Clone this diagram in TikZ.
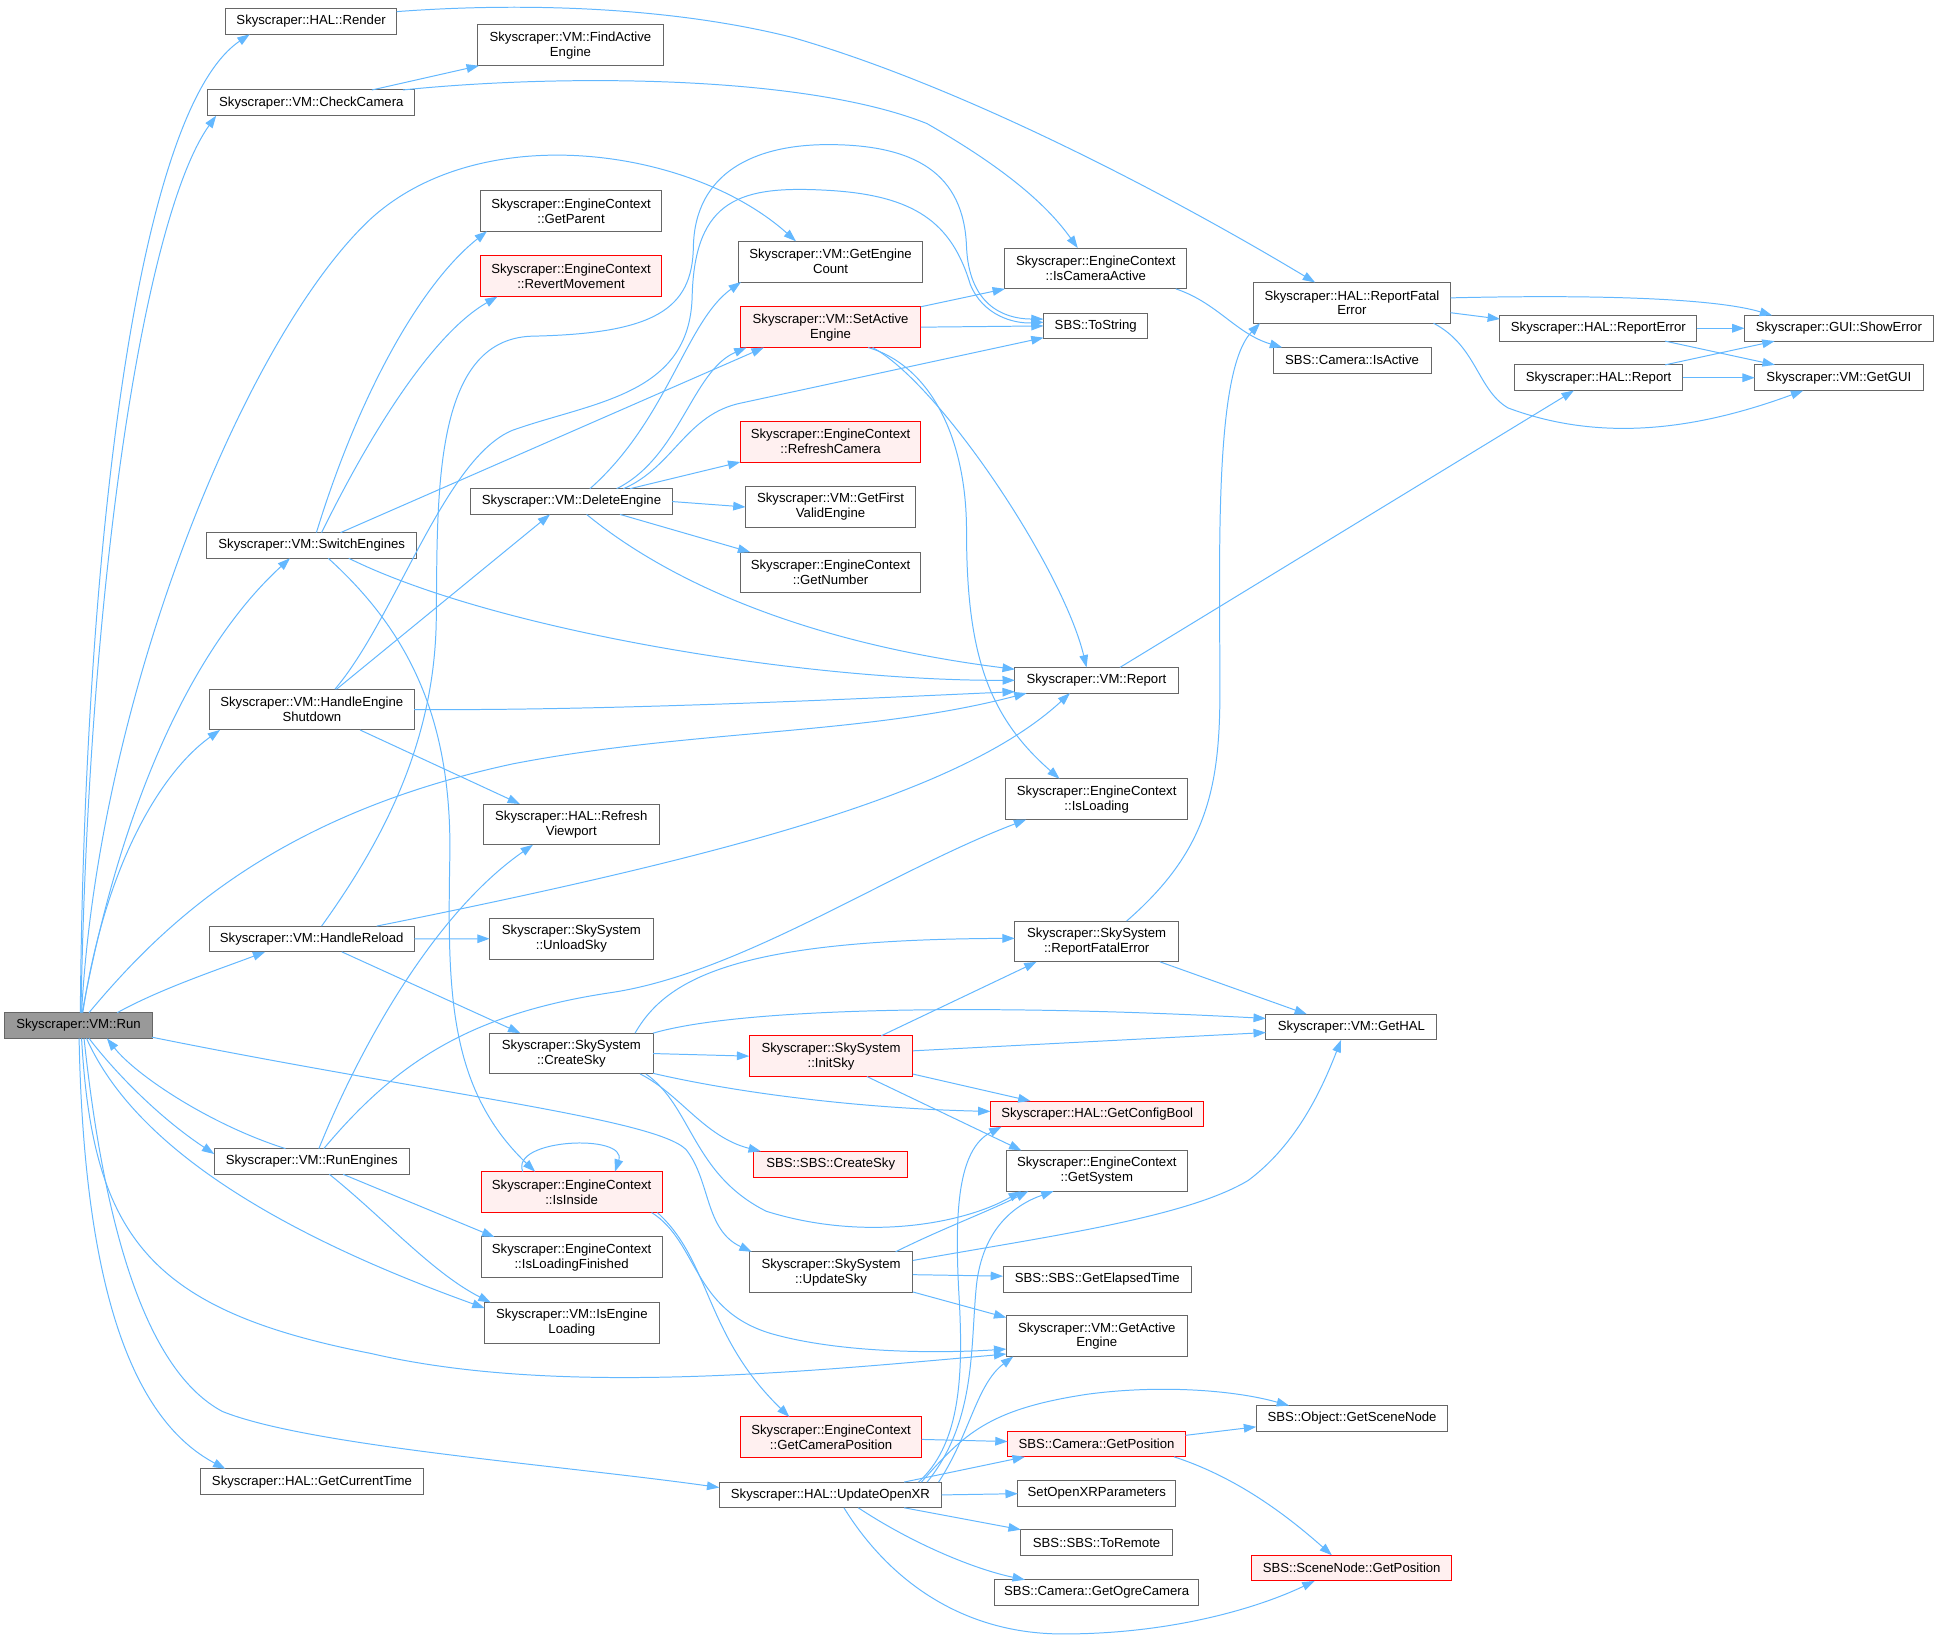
\documentclass[tikz,border=0pt]{standalone}
\usepackage{fontspec}
\setmainfont{Liberation Sans}
\usetikzlibrary{arrows.meta,calc}
\definecolor{edgeblue}{HTML}{63B8FF}
\definecolor{nodegray}{HTML}{666666}
\definecolor{redfill}{HTML}{FFF0F0}
\definecolor{rootfill}{HTML}{999999}
\tikzset{
  fn/.style={draw=nodegray, fill=white, line width=0.8pt, inner sep=0pt, outer sep=0pt, align=center,
    font=\fontsize{10.65}{12.1}\selectfont, minimum height=20.8pt},
  fn2/.style={fn, minimum height=33pt},
  redbox/.style={draw=red, fill=redfill},
  rootbox/.style={fill=rootfill},
  call/.style={draw=edgeblue, line width=0.8pt, -{Triangle[length=10pt,width=7pt]}},
}
\begin{document}
\begin{tikzpicture}[x=1pt,y=-1pt]
\useasboundingbox (0,0) rectangle (1568,1325);
\fill[white] (0,0) rectangle (1568,1325);

% ---------------- nodes ----------------
\node[fn, rootbox, minimum width=119pt] (run) at (63.5,829.7) {Skyscraper::VM::Run};
\node[fn, minimum width=138.5pt] (render) at (251.7,17.4) {Skyscraper::HAL::Render};
\node[fn, minimum width=167.7pt] (checkcam) at (251.9,83.2) {Skyscraper::VM::CheckCamera};
\node[fn2, minimum width=150pt] (findact) at (461.5,36.7) {Skyscraper::VM::FindActive\\Engine};
\node[fn2, minimum width=147pt] (getparent) at (462,170.6) {Skyscraper::EngineContext\\::GetParent};
\node[fn2, redbox, minimum width=147pt] (revert) at (462,223.5) {Skyscraper::EngineContext\\::RevertMovement};
\node[fn2, minimum width=149pt] (getengcount) at (672,211.7) {Skyscraper::VM::GetEngine\\Count};
\node[fn2, minimum width=147pt] (iscamact) at (886.6,217.2) {Skyscraper::EngineContext\\::IsCameraActive};
\node[fn, minimum width=84.3pt] (tostring) at (886.5,263.7) {SBS::ToString};
\node[fn2, redbox, minimum width=146pt] (setact) at (672,264.7) {Skyscraper::VM::SetActive\\Engine};
\node[fn2, minimum width=159.6pt] (halrfe) at (1093.8,245) {Skyscraper::HAL::ReportFatal\\Error};
\node[fn, minimum width=127.8pt] (camisactive) at (1093.9,291.5) {SBS::Camera::IsActive};
\node[fn, minimum width=159.2pt] (reporterror) at (1293.2,265.6) {Skyscraper::HAL::ReportError};
\node[fn, minimum width=152.7pt] (showerror) at (1487.8,265.6) {Skyscraper::GUI::ShowError};
\node[fn, minimum width=135.8pt] (halreport) at (1293.4,305.6) {Skyscraper::HAL::Report};
\node[fn, minimum width=136.1pt] (getgui) at (1487.8,305.6) {Skyscraper::VM::GetGUI};
\node[fn2, redbox, minimum width=146pt] (refreshcam) at (672,357.3) {Skyscraper::EngineContext\\::RefreshCamera};
\node[fn, minimum width=163pt] (deleteeng) at (462.4,405.8) {Skyscraper::VM::DeleteEngine};
\node[fn2, minimum width=137.5pt] (getfirst) at (672,410.2) {Skyscraper::VM::GetFirst\\ValidEngine};
\node[fn2, minimum width=146pt] (getnumber) at (672,463.2) {Skyscraper::EngineContext\\::GetNumber};
\node[fn, minimum width=169.5pt] (switcheng) at (252.2,441.3) {Skyscraper::VM::SwitchEngines};
\node[fn2, minimum width=165.6pt] (hes) at (252.3,574.1) {Skyscraper::VM::HandleEngine\\Shutdown};
\node[fn, minimum width=132pt] (vmreport) at (887.1,550.4) {Skyscraper::VM::Report};
\node[fn2, minimum width=147.3pt] (isloading) at (887.3,646.6) {Skyscraper::EngineContext\\::IsLoading};
\node[fn2, minimum width=142pt] (refreshvp) at (462.2,667) {Skyscraper::HAL::Refresh\\Viewport};
\node[fn, minimum width=166pt] (handlereload) at (252.2,759.7) {Skyscraper::VM::HandleReload};
\node[fn2, minimum width=132.3pt] (unloadsky) at (462.3,759.5) {Skyscraper::SkySystem\\::UnloadSky};
\node[fn2, minimum width=132.6pt] (skyrfe) at (887.3,761.7) {Skyscraper::SkySystem\\::ReportFatalError};
\node[fn2, minimum width=132.2pt] (createsky) at (462.3,852.4) {Skyscraper::SkySystem\\::CreateSky};
\node[fn2, redbox, minimum width=132.4pt] (initsky) at (672.4,854.5) {Skyscraper::SkySystem\\::InitSky};
\node[fn, minimum width=138.4pt] (gethal) at (1093.4,831) {Skyscraper::VM::GetHAL};
\node[fn, redbox, minimum width=172.7pt] (getconfigbool) at (887.7,901.2) {Skyscraper::HAL::GetConfigBool};
\node[fn, redbox, minimum width=124.5pt] (sbscreatesky) at (672.1,941.9) {SBS::SBS::CreateSky};
\node[fn2, minimum width=146.4pt] (getsystem) at (887.4,947.3) {Skyscraper::EngineContext\\::GetSystem};
\node[fn, minimum width=157.7pt] (runengines) at (252.2,939.7) {Skyscraper::VM::RunEngines};
\node[fn2, redbox, minimum width=146.6pt] (isinside) at (462.5,964.5) {Skyscraper::EngineContext\\::IsInside};
\node[fn2, minimum width=146.6pt] (isloadfin) at (462.5,1017.3) {Skyscraper::EngineContext\\::IsLoadingFinished};
\node[fn2, minimum width=132.4pt] (updatesky) at (672.4,1029.3) {Skyscraper::SkySystem\\::UpdateSky};
\node[fn, minimum width=152.3pt] (elapsed) at (887.7,1035) {SBS::SBS::GetElapsedTime};
\node[fn2, minimum width=141.2pt] (isengload) at (462.7,1070.3) {Skyscraper::VM::IsEngine\\Loading};
\node[fn2, minimum width=146.4pt] (getactive) at (887.4,1081) {Skyscraper::VM::GetActive\\Engine};
\node[fn2, redbox, minimum width=146.4pt] (getcampos) at (672.4,1162.9) {Skyscraper::EngineContext\\::GetCameraPosition};
\node[fn, minimum width=155.1pt] (getscenenode) at (1093.9,1147.6) {SBS::Object::GetSceneNode};
\node[fn, redbox, minimum width=143.9pt] (camgetpos) at (887.2,1168.3) {SBS::Camera::GetPosition};
\node[fn, minimum width=180.5pt] (getcurtime) at (252.4,1198.8) {Skyscraper::HAL::GetCurrentTime};
\node[fn, minimum width=179.8pt] (updateopenxr) at (671.9,1209.5) {Skyscraper::HAL::UpdateOpenXR};
\node[fn, minimum width=127.8pt] (setopenxr) at (887.4,1208.5) {SetOpenXRParameters};
\node[fn, minimum width=122.6pt] (toremote) at (887.2,1248) {SBS::SBS::ToRemote};
\node[fn, redbox, minimum width=162.2pt] (scenenodepos) at (1093.6,1268.7) {SBS::SceneNode::GetPosition};
\node[fn, minimum width=165.3pt] (ogrecam) at (887.2,1288.5) {SBS::Camera::GetOgreCamera};

% ---------------- edges from Run ----------------
\draw[call] ($(run.north)+(1.5,0)$) .. controls (68,450) and (110,90) .. ($(render.south)+(-49.7,0)$);
\draw[call] ($(run.north)+(2,0)$) .. controls (72,450) and (120,170) .. ($(checkcam.south)+(-77,0)$);
\draw[call] ($(run.north)+(2.5,0)$) .. controls (80,560) and (200,270) .. (300,177)
   .. controls (390,95) and (560,120) .. ($(getengcount.north)+(-28,0)$);
\draw[call] ($(run.north)+(3,0)$) .. controls (100,640) and (160,520) .. ($(switcheng.south)+(-17.6,0)$);
\draw[call] ($(run.north)+(3.5,0)$) .. controls (85,700) and (130,625) .. ($(hes.south)+(-74.3,0)$);
\draw[call] ($(run.north)+(8.5,0)$) .. controls (130,750) and (220,660) .. (415,618)
   .. controls (560,590) and (700,595) .. ($(vmreport.south)+(-56.5,0)$);
\draw[call] ($(run.north)+(31.4,0)$) .. controls (130,800) and (175,785) .. ($(handlereload.south)+(-37.6,0)$);
\draw[call] ($(run.south)+(8.5,0)$) .. controls (95,870) and (130,905) .. ($(runengines.west)+(0,-6)$);
\draw[call] ($(runengines.north)+(-21.2,0)$) .. controls (170,910) and (110,870) .. ($(run.south)+(23,0)$);
\draw[call] ($(run.south)+(6.5,0)$) .. controls (110,930) and (230,1000) .. ($(isengload.west)+(0,-12)$);
\draw[call] ($(run.south)+(2.5,0)$) .. controls (75,1000) and (120,1060) .. (300,1095)
   .. controls (450,1130) and (650,1110) .. ($(getactive.west)+(0,14.5)$);
\draw[call] ($(run.south)+(0.5,0)$) .. controls (68,1050) and (110,1150) .. ($(getcurtime.north)+(-70,0)$);
\draw[call] ($(run.south)+(4.5,0)$) .. controls (85,1000) and (120,1110) .. (180,1142)
   .. controls (250,1170) and (450,1185) .. ($(updateopenxr.west)+(0,-6)$);
\draw[call] ($(run.east)+(0,9.5)$) .. controls (350,885) and (530,905) .. (555,930)
   .. controls (575,955) and (570,995) .. ($(updatesky.north west)+(2,0)$);

% ---------------- top part ----------------
\draw[call] ($(render.east)+(0,-8)$) .. controls (420,2) and (540,5) .. (640,30)
   .. controls (780,70) and (950,160) .. ($(halrfe.north)+(-29.8,0)$);
\draw[call] ($(checkcam.north)+(49,0)$) -- ($(findact.south west)+(1,0)$);
\draw[call] ($(checkcam.north)+(74,0)$) .. controls (450,60) and (650,60) .. (750,100)
   .. controls (820,140) and (850,170) .. ($(iscamact.north)+(-14.6,0)$);

% ---------------- SwitchEngines ----------------
\draw[call] ($(switcheng.north)+(3.8,0)$) .. controls (290,320) and (340,230) .. ($(getparent.south)+(-68,0)$);
\draw[call] ($(switcheng.north)+(8,0)$) .. controls (300,350) and (350,270) .. ($(revert.south)+(-59.5,0)$);
\draw[call] ($(switcheng.north)+(23.4,0)$) -- ($(setact.south)+(-54,0)$);
\draw[call] ($(switcheng.south)+(13.4,0)$) .. controls (330,510) and (365,580) .. (364,690)
   .. controls (362,800) and (362,880) .. ($(isinside.north)+(-29.5,0)$);
\draw[call] ($(switcheng.south)+(30,0)$) .. controls (400,510) and (650,551) .. (vmreport.west);

% ---------------- HandleEngineShutdown ----------------
\draw[call] ($(hes.north)+(20,0)$) -- ($(deleteeng.south)+(-17.4,0)$);
\draw[call] ($(hes.north)+(18.7,0)$) .. controls (320,500) and (360,370) .. (415,348)
   .. controls (480,325) and (558,320) .. (560,240)
   .. controls (562,160) and (600,150) .. (670,154)
   .. controls (740,158) and (770,180) .. (785,230)
   .. controls (795,255) and (820,262) .. ($(tostring.west)+(0,-3)$);
\draw[call] ($(hes.south)+(39,0)$) -- ($(refreshvp.north)+(-41.5,0)$);
\draw[call] (hes.east) .. controls (500,575) and (700,565) .. ($(vmreport.west)+(0,9.2)$);

% ---------------- HandleReload ----------------
\draw[call] ($(handlereload.north)+(8,0)$) .. controls (310,680) and (352,600) .. (353,500)
   .. controls (354,400) and (350,275) .. (430,272)
   .. controls (530,270) and (560,250) .. (561,200)
   .. controls (562,140) and (610,117) .. (670,117)
   .. controls (740,117) and (780,140) .. (782,200)
   .. controls (784,245) and (810,258) .. ($(tostring.west)+(0,-5.5)$);
\draw[call] (handlereload.east) -- (unloadsky.west);
\draw[call] ($(handlereload.south)+(24.3,0)$) -- ($(createsky.north)+(-41.3,0)$);
\draw[call] ($(handlereload.north)+(52.5,0)$) .. controls (600,690) and (780,640) .. ($(vmreport.south)+(-21.4,0)$);

% ---------------- RunEngines ----------------
\draw[call] ($(runengines.north)+(5.8,0)$) .. controls (290,850) and (350,740) .. ($(refreshvp.south)+(-31,0)$);
\draw[call] ($(runengines.north)+(9.8,0)$) .. controls (320,860) and (380,820) .. (495,803)
   .. controls (600,787) and (720,705) .. ($(isloading.south)+(-57,0)$);
\draw[call] ($(runengines.south)+(25.4,0)$) -- ($(isloadfin.north)+(-62.5,0)$);
\draw[call] ($(runengines.south)+(14.3,0)$) .. controls (310,985) and (350,1030) .. ($(isengload.north)+(-65.7,0)$);

% ---------------- DeleteEngine ----------------
\draw[call] ($(deleteeng.north)+(14.9,0)$) .. controls (540,340) and (555,260) .. ($(getengcount.south west)+(2,0)$);
\draw[call] ($(deleteeng.north)+(36.5,0)$) .. controls (550,370) and (560,300) .. ($(setact.south west)+(5,0)$);
\draw[call] ($(deleteeng.north)+(42,0)$) .. controls (545,378) and (555,335) .. (600,326) -- ($(tostring.west)+(0,9.5)$);
\draw[call] ($(deleteeng.north)+(47.3,0)$) -- (refreshcam.south west);
\draw[call] (deleteeng.east) -- (getfirst.west);
\draw[call] ($(deleteeng.south)+(39.2,0)$) -- ($(getnumber.north)+(-65,0)$);
\draw[call] ($(deleteeng.south)+(12.2,0)$) .. controls (540,470) and (650,520) .. ($(vmreport.north west)+(0,1.5)$);

% ---------------- SetActiveEngine ----------------
\draw[call] (setact.north east) -- (iscamact.south west);
\draw[call] (setact.east) -- (tostring.west);
\draw[call] ($(setact.south)+(34,0)$) .. controls (760,310) and (860,460) .. ($(vmreport.north)+(-8,0)$);
\draw[call] ($(setact.south)+(30.5,0)$) .. controls (750,295) and (782,350) .. (782,430)
   .. controls (782,530) and (800,580) .. ($(isloading.north)+(-30,0)$);

% ---------------- right upper part ----------------
\draw[call] ($(iscamact.south)+(64.7,0)$) .. controls (985,245) and (1000,270) .. ($(camisactive.north)+(-56.5,0)$);
\draw[call] ($(halrfe.east)+(0,-4)$) .. controls (1300,238) and (1390,242) .. ($(showerror.north)+(-54,0)$);
\draw[call] ($(halrfe.east)+(0,8)$) -- ($(reporterror.west)+(0,-7.5)$);
\draw[call] ($(halrfe.south)+(66,0)$) .. controls (1195,280) and (1195,315) .. (1220,330)
   .. controls (1300,360) and (1380,345) .. ($(getgui.south)+(-28.8,0)$);
\draw[call] (reporterror.east) -- (showerror.west);
\draw[call] ($(reporterror.south)+(54,0)$) -- ($(getgui.north)+(-51.8,0)$);
\draw[call] ($(halreport.north)+(53.8,0)$) -- ($(showerror.south)+(-52,0)$);
\draw[call] (halreport.east) -- (getgui.west);
\draw[call] ($(vmreport.north)+(19,0)$) -- ($(halreport.south)+(-20,0)$);

% ---------------- SkySystem ----------------
\draw[call] ($(skyrfe.north)+(24.2,0)$) .. controls (975,690) and (987,640) .. (987,560)
   .. controls (987,450) and (982,300) .. ($(halrfe.south west)+(5.5,0)$);
\draw[call] ($(skyrfe.south)+(51.2,0)$) -- ($(gethal.north)+(-36,0)$);
\draw[call] ($(createsky.north)+(51.5,0)$) .. controls (540,790) and (600,760) .. ($(skyrfe.west)+(0,-2.5)$);
\draw[call] (createsky.north east) .. controls (600,815) and (800,812) .. ($(gethal.west)+(0,-7)$);
\draw[call] (createsky.east) -- (initsky.west);
\draw[call] ($(createsky.east)+(0,16)$) .. controls (600,885) and (700,897) .. ($(getconfigbool.west)+(0,-2)$);
\draw[call] ($(createsky.south)+(55.6,0)$) .. controls (550,885) and (570,920) .. ($(sbscreatesky.north)+(-56.5,0)$);
\draw[call] ($(createsky.south)+(60.3,0)$) .. controls (560,895) and (560,950) .. (620,980)
   .. controls (700,1005) and (780,990) .. ($(getsystem.south)+(-61.4,0)$);
\draw[call] ($(initsky.north)+(40.6,0)$) -- ($(skyrfe.south)+(-48.6,0)$);
\draw[call] ($(initsky.east)+(0,-4.3)$) -- ($(gethal.west)+(0,4.4)$);
\draw[call] ($(initsky.east)+(0,14.5)$) -- ($(getconfigbool.north)+(-53.9,0)$);
\draw[call] ($(initsky.south)+(29,0)$) -- ($(getsystem.north)+(-61,0)$);

% ---------------- IsInside ----------------
\draw[call] ($(isinside.north)+(-39.5,0)$) .. controls (412,921) and (508,917) .. ($(isinside.north)+(35,0)$);
\draw[call] ($(isinside.south)+(64.7,0)$) .. controls (565,1005) and (560,1060) .. (624,1079)
   .. controls (680,1095) and (760,1095) .. ($(getactive.west)+(0,10.5)$);
\draw[call] ($(isinside.south)+(69.3,0)$) .. controls (575,1020) and (570,1080) .. ($(getcampos.north)+(-33.7,0)$);

% ---------------- UpdateSky ----------------
\draw[call] ($(updatesky.north)+(52.2,0)$) .. controls (760,995) and (800,980) .. ($(getsystem.south)+(-55.4,0)$);
\draw[call] ($(updatesky.east)+(0,-9.5)$) .. controls (850,1000) and (960,985) .. (1010,955)
   .. controls (1050,925) and (1070,880) .. ($(gethal.south)+(-8.4,0)$);
\draw[call] ($(updatesky.east)+(0,2)$) -- ($(elapsed.west)+(0,-2.5)$);
\draw[call] ($(updatesky.east)+(0,16)$) -- ($(getactive.north west)+(0,1.5)$);

% ---------------- camera / scene ----------------
\draw[call] ($(getcampos.east)+(0,1.7)$) -- ($(camgetpos.west)+(0,-2)$);
\draw[call] ($(camgetpos.east)+(0,-7)$) -- ($(getscenenode.west)+(0,6.8)$);
\draw[call] ($(camgetpos.south)+(62.7,0)$) .. controls (1000,1195) and (1040,1225) .. ($(scenenodepos.north)+(-16,0)$);

% ---------------- UpdateOpenXR ----------------
\draw[call] ($(updateopenxr.north)+(71.3,0)$) .. controls (775,1170) and (780,1120) .. (776,1050)
   .. controls (772,980) and (775,930) .. ($(getconfigbool.south west)+(9,0)$);
\draw[call] ($(updateopenxr.north)+(78.2,0)$) .. controls (790,1150) and (785,1090) .. (790,1040)
   .. controls (795,995) and (820,975) .. ($(getsystem.south)+(-35,0)$);
\draw[call] ($(updateopenxr.north)+(87.5,0)$) .. controls (785,1160) and (790,1120) .. ($(getactive.south)+(-67.6,0)$);
\draw[call] ($(updateopenxr.north)+(73.6,0)$) .. controls (780,1160) and (800,1140) .. (880,1128)
   .. controls (940,1120) and (1000,1125) .. ($(getscenenode.north)+(-51,0)$);
\draw[call] ($(updateopenxr.north)+(59.6,0)$) -- ($(camgetpos.south)+(-58,0)$);
\draw[call] (updateopenxr.east) -- (setopenxr.west);
\draw[call] ($(updateopenxr.south)+(59.6,0)$) -- (toremote.north west);
\draw[call] ($(updateopenxr.south)+(22.5,0)$) .. controls (740,1250) and (790,1270) .. ($(ogrecam.north)+(-58,0)$);
\draw[call] ($(updateopenxr.south)+(10.9,0)$) .. controls (720,1280) and (780,1322) .. (860,1322)
   .. controls (950,1322) and (1020,1300) .. ($(scenenodepos.south)+(-30,0)$);
\end{tikzpicture}
\end{document}
